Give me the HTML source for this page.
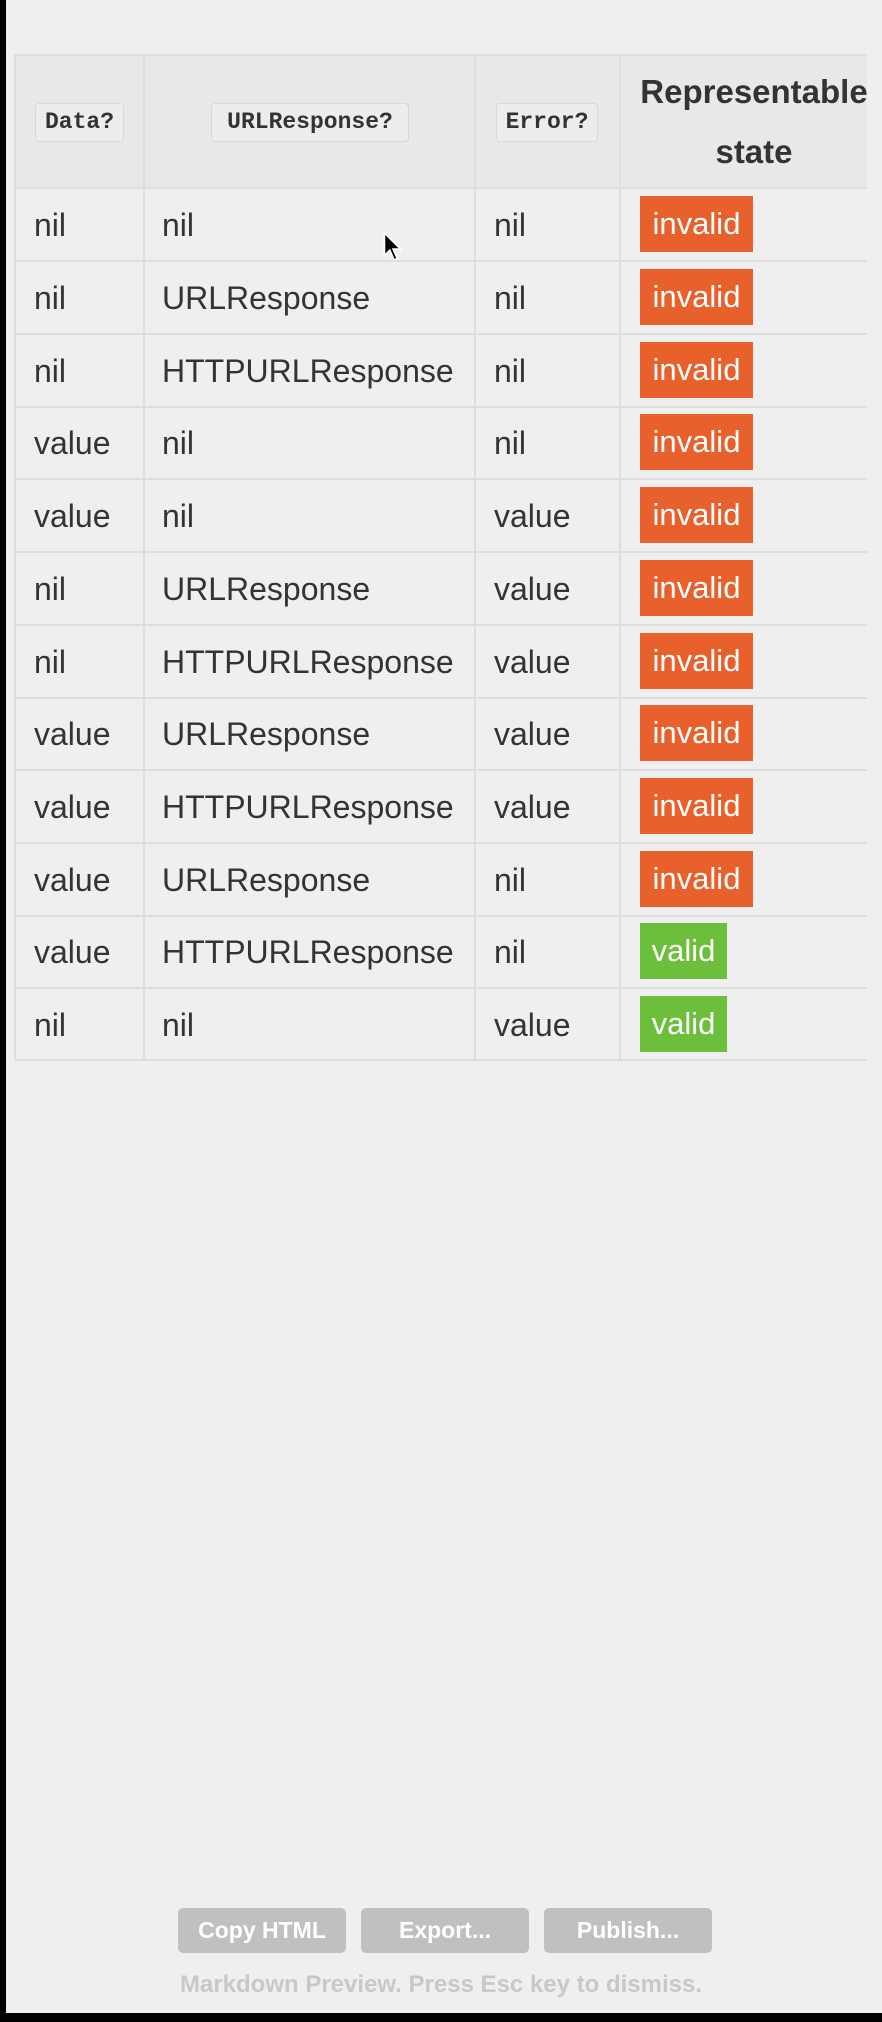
<!DOCTYPE html>
<html><head><meta charset="utf-8"><style>
*{margin:0;padding:0;box-sizing:border-box}
body{width:882px;height:2022px;background:#efefef;position:relative;overflow:hidden;font-family:"Liberation Sans",sans-serif}
.a{position:absolute}
.bl{background:#000}
.hl{position:absolute;left:15px;width:852px;height:2px;background:#dedede}
.vl{position:absolute;top:54px;height:1006px;width:2px;background:#dedede}
.t{position:absolute;font-size:32px;color:#333;line-height:40px}
.code{position:absolute;top:103px;height:39px;border:1px solid #d8d8d8;border-radius:4px;background:#ededed;font-family:"Liberation Mono",monospace;font-weight:bold;font-size:23px;color:#333;line-height:37px;text-align:center}
.bd{position:absolute;left:640px;height:56px;color:#fff;font-size:31px;line-height:56px;text-align:center}
.inv{width:113px;background:#e8602c}
.val{width:87px;background:#6cbf3a}
.btn{position:absolute;top:1908px;height:45px;width:168px;background:#c0c0c0;border-radius:5px;color:#fff;font-weight:bold;font-size:23px;line-height:45px;text-align:center}
</style></head><body>
<div class="a bl" style="left:0;top:0;width:6px;height:2022px"></div>
<div class="a bl" style="left:0;top:2013px;width:882px;height:9px"></div>
<div class="a" style="left:15px;top:54px;width:852px;height:133px;background:#e8e8e8"></div>
<div class="hl" style="top:54px"></div>
<div class="hl" style="top:187px"></div>
<div class="hl" style="top:260px"></div>
<div class="hl" style="top:333px"></div>
<div class="hl" style="top:406px"></div>
<div class="hl" style="top:478px"></div>
<div class="hl" style="top:551px"></div>
<div class="hl" style="top:624px"></div>
<div class="hl" style="top:697px"></div>
<div class="hl" style="top:769px"></div>
<div class="hl" style="top:842px"></div>
<div class="hl" style="top:915px"></div>
<div class="hl" style="top:987px"></div>
<div class="hl" style="top:1059px"></div>
<div class="vl" style="left:14px"></div>
<div class="vl" style="left:143px"></div>
<div class="vl" style="left:474px"></div>
<div class="vl" style="left:619px"></div>
<div class="code" style="left:35px;width:89px">Data?</div>
<div class="code" style="left:211px;width:198px">URLResponse?</div>
<div class="code" style="left:496px;width:102px">Error?</div>
<div class="a" style="left:619px;width:270px;top:62px;text-align:center;font-weight:bold;font-size:33px;line-height:60px;color:#333">Representable<br>state</div>
<div class="t" style="left:34px;top:205px">nil</div><div class="t" style="left:162px;top:205px">nil</div><div class="t" style="left:494px;top:205px">nil</div><div class="bd inv" style="top:196px">invalid</div>
<div class="t" style="left:34px;top:278px">nil</div><div class="t" style="left:162px;top:278px">URLResponse</div><div class="t" style="left:494px;top:278px">nil</div><div class="bd inv" style="top:269px">invalid</div>
<div class="t" style="left:34px;top:351px">nil</div><div class="t" style="left:162px;top:351px">HTTPURLResponse</div><div class="t" style="left:494px;top:351px">nil</div><div class="bd inv" style="top:342px">invalid</div>
<div class="t" style="left:34px;top:423px">value</div><div class="t" style="left:162px;top:423px">nil</div><div class="t" style="left:494px;top:423px">nil</div><div class="bd inv" style="top:414px">invalid</div>
<div class="t" style="left:34px;top:496px">value</div><div class="t" style="left:162px;top:496px">nil</div><div class="t" style="left:494px;top:496px">value</div><div class="bd inv" style="top:487px">invalid</div>
<div class="t" style="left:34px;top:569px">nil</div><div class="t" style="left:162px;top:569px">URLResponse</div><div class="t" style="left:494px;top:569px">value</div><div class="bd inv" style="top:560px">invalid</div>
<div class="t" style="left:34px;top:642px">nil</div><div class="t" style="left:162px;top:642px">HTTPURLResponse</div><div class="t" style="left:494px;top:642px">value</div><div class="bd inv" style="top:633px">invalid</div>
<div class="t" style="left:34px;top:714px">value</div><div class="t" style="left:162px;top:714px">URLResponse</div><div class="t" style="left:494px;top:714px">value</div><div class="bd inv" style="top:705px">invalid</div>
<div class="t" style="left:34px;top:787px">value</div><div class="t" style="left:162px;top:787px">HTTPURLResponse</div><div class="t" style="left:494px;top:787px">value</div><div class="bd inv" style="top:778px">invalid</div>
<div class="t" style="left:34px;top:860px">value</div><div class="t" style="left:162px;top:860px">URLResponse</div><div class="t" style="left:494px;top:860px">nil</div><div class="bd inv" style="top:851px">invalid</div>
<div class="t" style="left:34px;top:932px">value</div><div class="t" style="left:162px;top:932px">HTTPURLResponse</div><div class="t" style="left:494px;top:932px">nil</div><div class="bd val" style="top:923px">valid</div>
<div class="t" style="left:34px;top:1005px">nil</div><div class="t" style="left:162px;top:1005px">nil</div><div class="t" style="left:494px;top:1005px">value</div><div class="bd val" style="top:996px">valid</div>
<svg class="a" style="left:382px;top:232px" width="22" height="32" viewBox="0 0 20 30"><path d="M2 1 L2 22 L7 17 L11 26 L14 25 L10 16 L17 16 Z" fill="#000" stroke="#fff" stroke-width="1.5"/></svg>
<div class="btn" style="left:178px">Copy HTML</div>
<div class="btn" style="left:361px">Export...</div>
<div class="btn" style="left:544px">Publish...</div>
<div class="a" style="left:0;width:882px;top:1971px;text-align:center;font-size:24px;font-weight:bold;color:#c8c8c8">Markdown Preview. Press Esc key to dismiss.</div>
</body></html>
